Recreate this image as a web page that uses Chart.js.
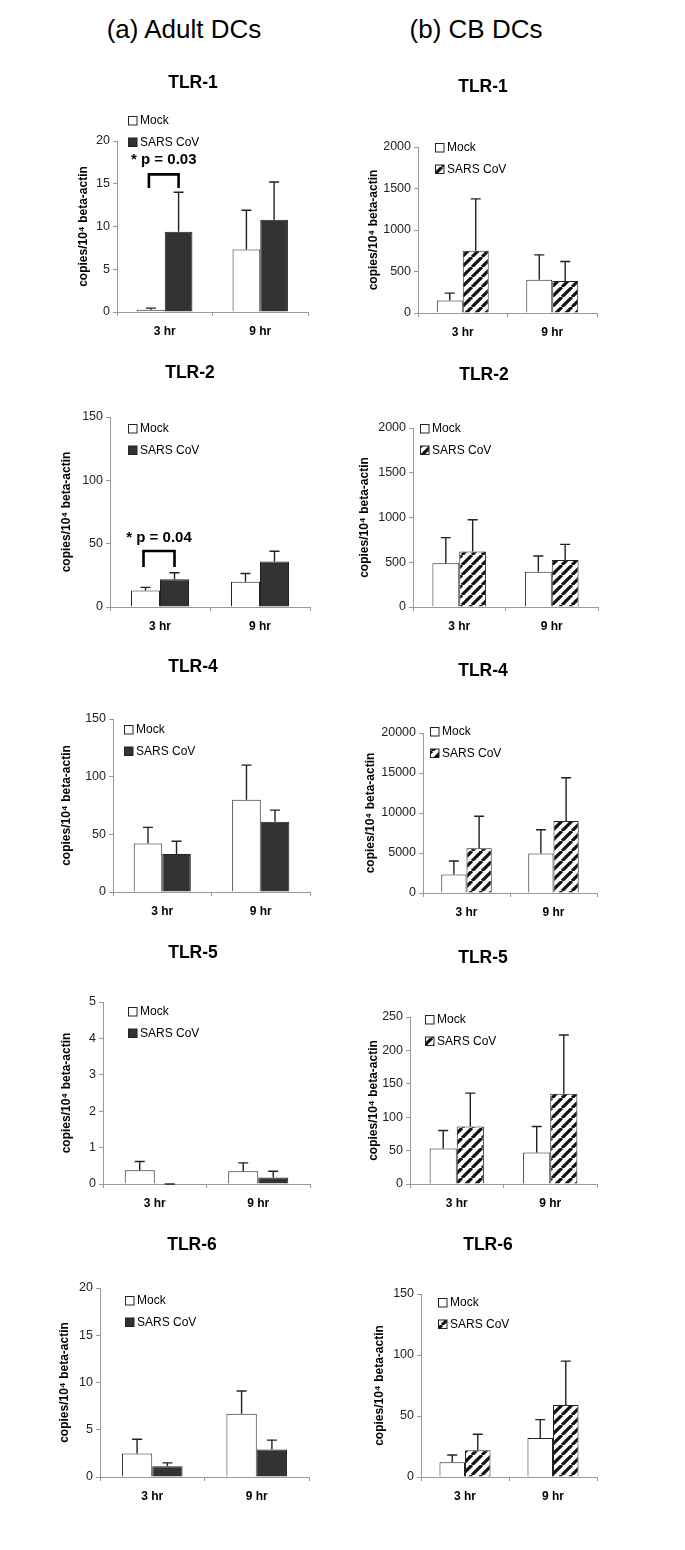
<!DOCTYPE html>
<html>
<head>
<meta charset="utf-8">
<script src="https://cdn.jsdelivr.net/npm/chart.js@4.4.0/dist/chart.umd.min.js"></script>
<style>
  body { margin: 0; background: #fff; width: 685px; height: 1550px; position: relative; overflow: hidden;
         font-family: "Liberation Sans", Arial, sans-serif; }
  .col-head { position: absolute; top: 14px; font-size: 26px; color: #000; transform: translateX(-50%); white-space: nowrap; }
  canvas { position: absolute; }
</style>
</head>
<body>
<div class="col-head" style="left:184px">(a) Adult DCs</div>
<div class="col-head" style="left:476px">(b) CB DCs</div>
<script>
const categories = ["3 hr", "9 hr"];
const seriesNames = ["Mock", "SARS CoV"];
const panelTitles = ["TLR-1", "TLR-2", "TLR-4", "TLR-5", "TLR-6"];
const yTitle = "copies/10\u2074 beta-actin";

// (a) Adult DCs
const adultMock = [[0.25, 7.3], [13, 20], [42, 80], [0.38, 0.35], [2.5, 6.7]];
const adultMockErr = [[0.2, 4.6], [2.5, 6.5], [14, 30], [0.24, 0.23], [1.5, 2.4]];
const adultSars = [[9.4, 10.8], [22, 36], [33, 61], [0, 0.18], [1.15, 2.9]];
const adultSarsErr = [[4.6, 4.4], [5, 8], [11, 10], [0, 0.17], [0.35, 1.0]];
const adultYMax = [20, 150, 150, 5, 20];
const adultYStep = [5, 50, 50, 1, 5];
const adultPValues = ["* p = 0.03", "* p = 0.04", null, null, null];

// (b) CB DCs
const cbMock = [[150, 400], [490, 395], [2300, 4950], [53, 47], [12, 32]];
const cbMockErr = [[90, 300], [285, 175], [1700, 2950], [27, 39], [6, 15]];
const cbSars = [[750, 385], [620, 525], [5600, 9000], [86, 135], [22, 59]];
const cbSarsErr = [[625, 235], [355, 175], [4000, 5400], [50, 88], [13, 36]];
const cbYMax = [2000, 2000, 20000, 250, 150];
const cbYStep = [500, 500, 5000, 50, 50];

// page layout: plot area [left, top, right, bottom], y title centre x, panel title centre, legend start
const adultLayout = [
  { area: [117, 141, 308, 312], ylabX: 84, title: [193, 83], legend: [128, 121], note: { text: 17.8, top: 16.1, bottom: 14.5 } },
  { area: [110, 417, 310, 607], ylabX: 67, title: [190, 373], legend: [128, 429], note: { text: 54.5, top: 44.2, bottom: 31.6 } },
  { area: [113, 719, 310, 892], ylabX: 67, title: [193, 667], legend: [124, 730] },
  { area: [103, 1002, 310, 1184], ylabX: 67, title: [193, 953], legend: [128, 1012] },
  { area: [100, 1288, 309, 1477], ylabX: 65, title: [192, 1245], legend: [125, 1301] }
];
const cbLayout = [
  { area: [418, 147, 597, 313], ylabX: 374, title: [483, 87], legend: [435, 148] },
  { area: [413, 428, 598, 607], ylabX: 365, title: [484, 375], legend: [420, 429] },
  { area: [423, 733, 597, 893], ylabX: 371, title: [483, 671], legend: [430, 732] },
  { area: [410, 1017, 597, 1184], ylabX: 374, title: [483, 958], legend: [425, 1020] },
  { area: [421, 1294, 597, 1477], ylabX: 380, title: [488, 1245], legend: [438, 1303] }
];

const FONT = "'Liberation Sans', Arial, sans-serif";
const Y_TITLE_SIZE = 12;
const Y_TITLE_LH = Y_TITLE_SIZE * 1.2;
const X_AXIS_H = 32;
const AXIS_GREY = "#999";

const makeHatch = () => {
  const size = 10;
  const c = document.createElement("canvas");
  c.width = size;
  c.height = size;
  const g = c.getContext("2d");
  g.fillStyle = "#fff";
  g.fillRect(0, 0, size, size);
  g.strokeStyle = "#111";
  g.lineWidth = 3.2;
  g.beginPath();
  for (const k of [-1, 0, 1]) {
    g.moveTo(k * size, size);
    g.lineTo(size + k * size, 0);
  }
  g.stroke();
  return g.createPattern(c, "repeat");
};
const hatch = makeHatch();

const panelDeco = {
  id: "panelDeco",
  afterDatasetsDraw(chart) {
    const ctx = chart.ctx;
    const y = chart.scales.y;
    ctx.save();
    ctx.strokeStyle = "#222";
    ctx.lineWidth = 1.4;
    chart.data.datasets.forEach((ds, i) => {
      chart.getDatasetMeta(i).data.forEach((bar, j) => {
        const yTop = y.getPixelForValue(ds.data[j] + ds.errors[j]);
        ctx.beginPath();
        ctx.moveTo(bar.x, bar.y);
        ctx.lineTo(bar.x, yTop);
        ctx.moveTo(bar.x - 5, yTop);
        ctx.lineTo(bar.x + 5, yTop);
        ctx.stroke();
      });
    });
    ctx.restore();
  },
  afterDraw(chart, args, opts) {
    const ctx = chart.ctx;
    ctx.save();
    // panel title
    ctx.fillStyle = "#000";
    ctx.font = "bold 17.5px " + FONT;
    ctx.textAlign = "center";
    ctx.textBaseline = "middle";
    ctx.fillText(opts.title, opts.titleX, opts.titleY);

    // legend inside the plot
    ctx.font = "12px " + FONT;
    ctx.textAlign = "left";
    chart.data.datasets.forEach((ds, i) => {
      const ly = opts.legendY + i * 21.5;
      ctx.fillStyle = ds.backgroundColor;
      ctx.fillRect(opts.legendX, ly - 4.5, 9, 9);
      ctx.strokeStyle = "#222";
      ctx.lineWidth = 1;
      ctx.strokeRect(opts.legendX + 0.5, ly - 4.5, 8.5, 8.5);
      ctx.fillStyle = "#000";
      ctx.fillText(ds.label, opts.legendX + 12, ly);
    });

    // significance bracket
    if (opts.pText) {
      const y = chart.scales.y;
      const m0 = chart.getDatasetMeta(0).data[0];
      const s0 = chart.getDatasetMeta(1).data[0];
      const x1 = m0.x - 2;
      const x2 = s0.x;
      const yt = y.getPixelForValue(opts.note.top);
      const yb = y.getPixelForValue(opts.note.bottom);
      ctx.strokeStyle = "#000";
      ctx.lineWidth = 2.6;
      ctx.beginPath();
      ctx.moveTo(x1, yb);
      ctx.lineTo(x1, yt);
      ctx.lineTo(x2, yt);
      ctx.lineTo(x2, yb);
      ctx.stroke();
      ctx.font = "bold 15px " + FONT;
      ctx.textAlign = "center";
      ctx.fillStyle = "#000";
      ctx.fillText(opts.pText, (x1 + x2) / 2, y.getPixelForValue(opts.note.text));
    }
    ctx.restore();
  }
};

const createTlrChart = (colLeft, colWidth, box, title, mock, mockErr, sars, sarsErr, yMax, yStep, sarsFill, pText) => {
  const [aL, aT, aR, aB] = box.area;
  const top = box.title[1] - 20;
  const height = aB + 40 - top;
  const canvas = document.createElement("canvas");
  canvas.width = colWidth;
  canvas.height = height;
  canvas.style.left = colLeft + "px";
  canvas.style.top = top + "px";
  document.body.appendChild(canvas);

  const padLeft = box.ylabX - colLeft - Y_TITLE_LH / 2;

  new Chart(canvas.getContext("2d"), {
    type: "bar",
    data: {
      labels: categories,
      datasets: [
        { label: seriesNames[0], data: mock, errors: mockErr, backgroundColor: "#fff", borderColor: "#222", borderWidth: 1 },
        { label: seriesNames[1], data: sars, errors: sarsErr, backgroundColor: sarsFill, borderColor: "#222", borderWidth: 1 },
      ],
    },
    options: {
      responsive: false,
      animation: false,
      events: [],
      layout: {
        padding: {
          left: padLeft,
          top: aT - top,
          right: colLeft + colWidth - aR,
          bottom: height - (aB - top) - X_AXIS_H,
        },
      },
      datasets: { bar: { categoryPercentage: 0.58, barPercentage: 1 } },
      plugins: {
        legend: { display: false },
        tooltip: { enabled: false },
        panelDeco: {
          title: title,
          titleX: box.title[0] - colLeft,
          titleY: box.title[1] - top,
          legendX: box.legend[0] - colLeft,
          legendY: box.legend[1] - top,
          pText: pText,
          note: box.note,
        },
      },
      scales: {
        x: {
          grid: { drawOnChartArea: false, tickLength: 4, color: AXIS_GREY },
          border: { color: AXIS_GREY },
          ticks: { font: { family: FONT, size: 12, weight: "bold" }, color: "#000", padding: 8 },
          afterFit: (s) => { s.height = X_AXIS_H; },
        },
        y: {
          min: 0,
          max: yMax,
          grid: { drawOnChartArea: false, tickLength: 4, color: AXIS_GREY },
          border: { color: AXIS_GREY },
          ticks: { stepSize: yStep, font: { family: FONT, size: 12.5 }, color: "#222", padding: 3, callback: (v) => v },
          title: { display: true, text: yTitle, padding: 0, color: "#000", font: { family: FONT, size: Y_TITLE_SIZE, weight: "bold" } },
          afterFit: (s) => { s.width = aL - box.ylabX + Y_TITLE_LH / 2; },
        },
      },
    },
    plugins: [panelDeco],
  });
};

panelTitles.forEach((t, i) => {
  createTlrChart(0, 342, adultLayout[i], t, adultMock[i], adultMockErr[i], adultSars[i], adultSarsErr[i],
    adultYMax[i], adultYStep[i], "#333", adultPValues[i]);
  createTlrChart(342, 343, cbLayout[i], t, cbMock[i], cbMockErr[i], cbSars[i], cbSarsErr[i],
    cbYMax[i], cbYStep[i], hatch, null);
});
</script>
</body>
</html>
